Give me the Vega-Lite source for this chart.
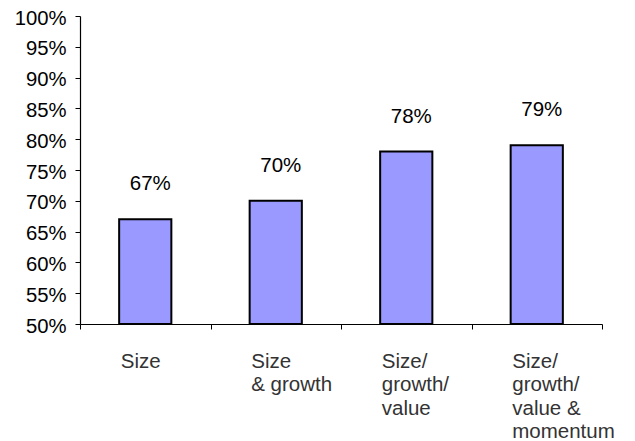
{
  "$schema": "https://vega.github.io/schema/vega-lite/v6.json",
  "width": 522,
  "height": 308,
  "autosize": {"type": "none"},
  "padding": {"left": 80, "top": 16, "right": 33, "bottom": 117},
  "background": "white",
  "config": {
    "view": {"stroke": null},
    "font": "Liberation Sans",
    "axis": {"grid": false, "domainColor": "black", "tickColor": "black", "labelFont": "Liberation Sans"}
  },
  "data": {
    "values": [
      {"method": "Size", "accuracy": 0.67},
      {"method": "Size\n& growth", "accuracy": 0.70},
      {"method": "Size/\ngrowth/\nvalue", "accuracy": 0.78},
      {"method": "Size/\ngrowth/\nvalue &\nmomentum", "accuracy": 0.79}
    ]
  },
  "encoding": {
    "x": {
      "field": "method",
      "type": "nominal",
      "sort": null,
      "scale": {"paddingInner": 0, "paddingOuter": 0},
      "axis": {
        "title": null,
        "labelAngle": 0,
        "labelAlign": "left",
        "labelBaseline": "top",
        "labelOffset": -25,
        "labelPadding": 22,
        "labelFontSize": 20.5,
        "labelLineHeight": 23.5,
        "labelColor": "#333333",
        "labelExpr": "split(datum.label, '\\n')",
        "tickBand": "extent",
        "tickSize": 5,
        "domainWidth": 1.2
      }
    },
    "y": {
      "field": "accuracy",
      "type": "quantitative",
      "scale": {"domain": [0.5, 1.0], "zero": false, "clamp": true},
      "axis": {
        "title": null,
        "format": ".0%",
        "values": [0.5, 0.55, 0.6, 0.65, 0.7, 0.75, 0.8, 0.85, 0.9, 0.95, 1.0],
        "labelFontSize": 20.3,
        "labelColor": "black",
        "labelPadding": 9,
        "labelOffset": 2,
        "tickSize": 5,
        "domainWidth": 1.2
      }
    }
  },
  "layer": [
    {
      "mark": {"type": "bar", "width": {"band": 0.4}, "fill": "#9999FF", "stroke": "black", "strokeWidth": 2},
      "encoding": {"y2": {"datum": 0.5}}
    },
    {
      "mark": {"type": "text", "dy": -35, "dx": 5, "fontSize": 20.5, "color": "black", "font": "Liberation Sans"},
      "encoding": {"text": {"field": "accuracy", "type": "quantitative", "format": ".0%"}}
    }
  ]
}
